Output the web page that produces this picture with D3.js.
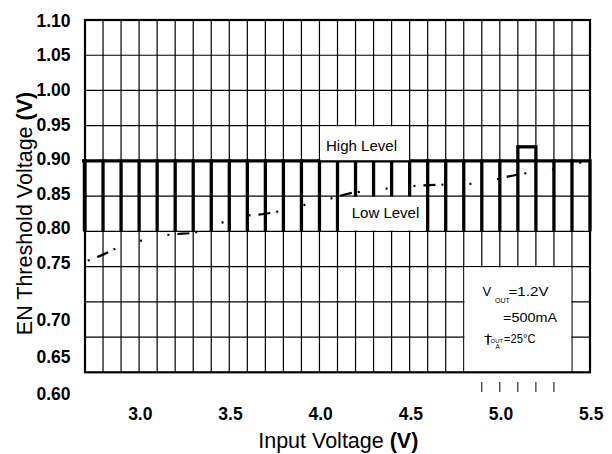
<!DOCTYPE html>
<html><head><meta charset="utf-8">
<script src="https://cdn.jsdelivr.net/npm/d3@7"></script>
<style>html,body{margin:0;padding:0;background:#fff;} svg{display:block;}</style>
</head><body>
<svg id="c" width="612" height="454"></svg>
<script>
// ---- data ----
const yTickValues = [1.10, 1.05, 1.00, 0.95, 0.90, 0.85, 0.80, 0.75, 0.70, 0.65, 0.60];
const yTickLabels = ["1.10", "1.05", "1.00", "0.95", "0.90", "0.85", "0.80", "0.75", "0.70", "0.65", "0.60"];
const xTickValues = [3.0, 3.5, 4.0, 4.5, 5.0, 5.5];
const xTickLabels = ["3.0", "3.5", "4.0", "4.5", "5.0", "5.5"];
const minorTickValues = [4.9, 5.0, 5.1, 5.2, 5.3];
const edgeVin = [2.7, 2.8, 2.9, 3.0, 3.1, 3.2, 3.3, 3.4, 3.5, 3.6, 3.7, 3.8, 3.9, 4.0, 4.1,
                 4.2, 4.3, 4.4, 4.5, 4.6, 4.7, 4.8, 4.9, 5.0, 5.1, 5.2, 5.3, 5.4, 5.5];
const highLevel = [0.90, 0.90, 0.90, 0.90, 0.90, 0.90, 0.90, 0.90, 0.90, 0.90, 0.90, 0.90, 0.90, 0.90, 0.90,
                   0.90, 0.90, 0.90, 0.90, 0.90, 0.90, 0.90, 0.90, 0.90, 0.92, 0.92, 0.90, 0.90, 0.90];
const lowLevel = 0.80;
const curveVin = [2.7, 2.8, 2.9, 3.0, 3.1, 3.2, 3.3, 3.4, 3.5, 3.56, 3.7, 3.87, 3.95, 4.03, 4.19, 4.26, 4.35,
                  4.5, 4.65, 4.81, 4.97, 5.05, 5.13, 5.28, 5.36, 5.44, 5.5];
const curveV   = [0.757, 0.767, 0.779, 0.786, 0.793, 0.796, 0.798, 0.807, 0.816, 0.821, 0.825, 0.834, 0.840, 0.8445, 0.855, 0.857, 0.860,
                  0.864, 0.866, 0.867, 0.873, 0.878, 0.882, 0.887, 0.893, 0.8975, 0.899];
// label boxes in data units: [vin0, vin1, v0, v1]
const highBox = [4.0, 4.5, 0.90, 0.95];
const lowBox  = [4.1, 4.6, 0.80, 0.85];
const noteBox = [4.8, 5.4, 0.60, 0.75];

// ---- layout ----
const svg = d3.select("#c");
const L = 85, R = 590, T = 20, B = 372.3;
const x = d3.scaleLinear().domain([2.7, 5.5]).range([L, R]);
const y = d3.scaleLinear().domain([0.60, 1.10]).range([B, T]);
// tick label placement (labels in the original drift below 0.75)
const yLab = d3.scaleLinear().domain([1.10, 0.75, 0.70, 0.60]).range([20.5, 263, 320, 394]);
const FONT = "'Liberation Sans', Arial, Helvetica, sans-serif";

// grid
const gridX = d3.range(28, 55).map(d => d / 10);
const gridY = d3.range(13, 22).map(d => d / 20);
svg.append("g").selectAll("line").data(gridX).join("line")
  .attr("x1", d => x(d)).attr("x2", d => x(d)).attr("y1", T).attr("y2", B)
  .attr("stroke", "#000").attr("stroke-width", 1.2);
svg.append("g").selectAll("line").data(gridY).join("line")
  .attr("x1", L).attr("x2", R).attr("y1", d => y(d)).attr("y2", d => y(d))
  .attr("stroke", "#000").attr("stroke-width", 1.2);

// thick level bars
const bars = svg.append("g").attr("stroke", "#000").attr("stroke-width", 3.3);
bars.selectAll("line.v").data(edgeVin).join("line").attr("class", "v")
  .attr("x1", d => x(d)).attr("x2", d => x(d))
  .attr("y1", y(lowLevel)).attr("y2", (d, i) => y(highLevel[i]) - 1.6);
bars.append("line").attr("x1", x(2.7) - 3).attr("x2", x(5.5))
  .attr("y1", y(0.90)).attr("y2", y(0.90));
const segs = edgeVin.slice(1).map((d, i) => ({a: edgeVin[i], b: d, lv: Math.min(highLevel[i], highLevel[i + 1])}))
  .filter(s => s.lv > 0.90);
bars.selectAll("line.h").data(segs).join("line").attr("class", "h")
  .attr("x1", s => x(s.a)).attr("x2", s => x(s.b))
  .attr("y1", s => y(s.lv)).attr("y2", s => y(s.lv));

// white label boxes
function box(bx, insetX) {
  svg.append("rect")
    .attr("x", x(bx[0]) + insetX).attr("y", y(bx[3]) + 0.7)
    .attr("width", x(bx[1]) - x(bx[0]) - 2 * insetX)
    .attr("height", y(bx[2]) - y(bx[3]) - 1.4)
    .attr("fill", "#fff");
}
box(highBox, 0.7);
box(lowBox, 1.8);
box(noteBox, 0.7);

// typical curve (dash-dot)
const line = d3.line().x((d, i) => x(curveVin[i])).y(d => y(d)).curve(d3.curveMonotoneX);
svg.append("path").datum(curveV).attr("d", line)
  .attr("fill", "none").attr("stroke", "#000").attr("stroke-width", 2.2)
  .attr("stroke-dasharray", "2,8,12,6,2,26,2,26").attr("stroke-dashoffset", -3);

// frame
svg.append("rect").attr("x", L).attr("y", T).attr("width", R - L).attr("height", B - T)
  .attr("fill", "none").attr("stroke", "#000").attr("stroke-width", 2.2);
svg.append("line").attr("x1", L - 1).attr("x2", L - 1).attr("y1", y(0.90)).attr("y2", y(0.80))
  .attr("stroke", "#000").attr("stroke-width", 2.5);

// minor ticks under axis
svg.append("g").selectAll("line").data(minorTickValues).join("line")
  .attr("x1", d => x(d)).attr("x2", d => x(d)).attr("y1", 382).attr("y2", 392)
  .attr("stroke", "#000").attr("stroke-width", 1);

// y tick labels
svg.append("g").selectAll("text").data(yTickValues).join("text")
  .attr("x", 70.5).attr("y", d => yLab(d)).attr("dy", "0.35em")
  .attr("text-anchor", "end").attr("font-family", FONT).attr("font-weight", "bold")
  .attr("font-size", 17.5).attr("fill", "#000")
  .text((d, i) => yTickLabels[i]);

// x tick labels
svg.append("g").selectAll("text").data(xTickValues).join("text")
  .attr("x", d => x(d) + 1.2).attr("y", 420)
  .attr("text-anchor", "middle").attr("font-family", FONT).attr("font-weight", "bold")
  .attr("font-size", 17.5).attr("fill", "#000")
  .text((d, i) => xTickLabels[i]);

// axis titles
const xt = svg.append("text").attr("x", 338.3).attr("y", 448).attr("text-anchor", "middle")
  .attr("font-family", FONT).attr("font-size", 21.5).attr("fill", "#000");
xt.append("tspan").text("Input Voltage ");
xt.append("tspan").attr("font-weight", "bold").text("(V)");

const yt = svg.append("text").attr("transform", "translate(31.5,213.5) rotate(-90)")
  .attr("text-anchor", "middle").attr("font-family", FONT).attr("font-size", 21.5).attr("fill", "#000");
yt.append("tspan").text("EN Threshold Voltage ");
yt.append("tspan").attr("font-weight", "bold").text("(V)");

// level labels
svg.append("text").attr("x", 326).attr("y", 151).attr("font-family", FONT).attr("font-size", 15)
  .attr("textLength", 71).attr("lengthAdjust", "spacingAndGlyphs").text("High Level");
svg.append("text").attr("x", 351.7).attr("y", 218.3).attr("font-family", FONT).attr("font-size", 15)
  .attr("textLength", 67.6).attr("lengthAdjust", "spacingAndGlyphs").text("Low Level");

// conditions note
const note = svg.append("g").attr("font-family", FONT).attr("fill", "#000");
const n1 = note.append("text").attr("font-size", 13);
n1.append("tspan").attr("x", 482.5).attr("y", 296).text("V");
n1.append("tspan").attr("x", 495).attr("y", 302.5).attr("font-size", 7).text("OUT");
n1.append("tspan").attr("x", 508.5).attr("y", 296).attr("textLength", 40).attr("lengthAdjust", "spacingAndGlyphs").text("=1.2V");
note.append("text").attr("x", 503).attr("y", 321.5).attr("font-size", 13)
  .attr("textLength", 54).attr("lengthAdjust", "spacingAndGlyphs").text("=500mA");
const n3 = note.append("text").attr("font-size", 13);
n3.append("tspan").attr("x", 484).attr("y", 345).text("T");
n3.append("tspan").attr("x", 486.3).attr("y", 343).text("I");
n3.append("tspan").attr("x", 490.5).attr("y", 343).attr("font-size", 6).text("OUT");
n3.append("tspan").attr("x", 495.5).attr("y", 349).attr("font-size", 6.5).text("A");
n3.append("tspan").attr("x", 504).attr("y", 343).attr("textLength", 31.5).attr("lengthAdjust", "spacingAndGlyphs").text("=25°C");
</script>
</body></html>
